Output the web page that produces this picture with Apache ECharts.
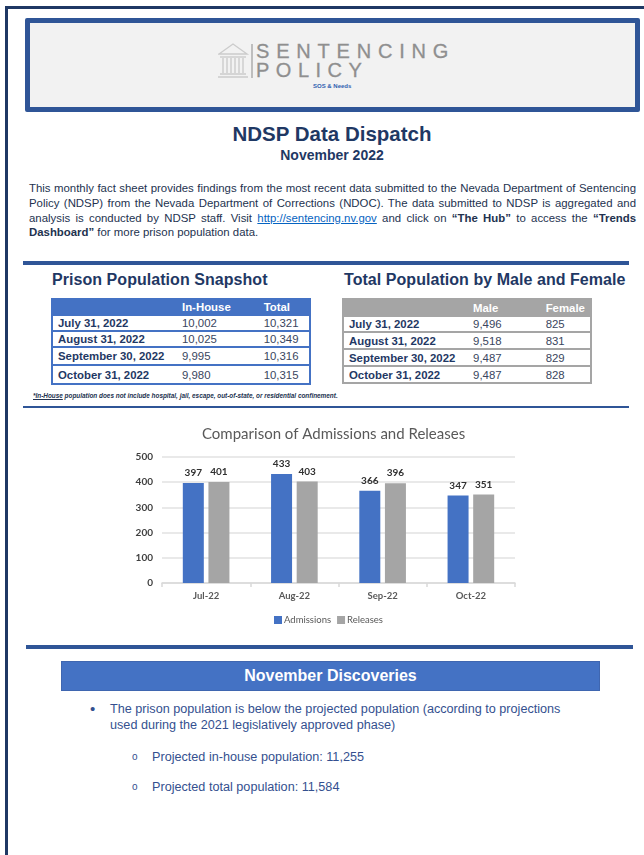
<!DOCTYPE html>
<html>
<head>
<meta charset="utf-8">
<title>NDSP Data Dispatch</title>
<script src="https://cdn.jsdelivr.net/npm/echarts@6/dist/echarts.min.js"></script>
<style>
  html, body { margin: 0; padding: 0; background: #fff; }
  body { width: 644px; height: 855px; overflow: hidden; position: relative; font-family: "Liberation Sans", Arial, sans-serif; color: #1f3864; }
  .abs { position: absolute; }
  .rule { position: absolute; background: #2f5597; }
  .center { text-align: center; }
  .line { position: absolute; left: 29px; width: 607px; font-size: 11.4px; line-height: 14px; color: #23324f; text-align: justify; text-align-last: justify; white-space: normal; }
  .line.last { text-align-last: left; }
  .line a { color: #0563c1; }
  h2 { position: absolute; margin: 0; font-size: 16px; line-height: 20px; font-weight: bold; white-space: nowrap; letter-spacing: 0.05px; }
  table { position: absolute; border-collapse: collapse; table-layout: fixed; font-size: 11.4px; }
  td, th { padding: 0; white-space: nowrap; text-align: left; }
  td { color: #3a4660; }
  td:first-child { font-weight: bold; padding-left: 5px; color: #1f3864; }
  th { color: #fff; }
  #snapshot { left: 51px; top: 298px; width: 260px; border: 2px solid #4472c4; }
  #snapshot th { background: #4472c4; }
  #snapshot td { border-top: 2px solid #4472c4; }
  #gender { left: 342px; top: 298px; width: 250px; border: 2px solid #a5a5a5; }
  #gender th { background: #a5a5a5; }
  #gender td { border-top: 2px solid #a5a5a5; }
  #note { left: 33px; top: 391px; font-size: 6.4px; line-height: 10px; font-style: italic; font-weight: bold; white-space: nowrap; color: #23324f; }
  #chart { position: absolute; left: 120px; top: 415px; width: 410px; height: 225px; }
  #banner { left: 61px; top: 661px; width: 539px; height: 30px; line-height: 30px; background: #4472c4; color: #fff; font-size: 16px; font-weight: bold; text-align: center; box-shadow: inset 0 0 0 1px #3f66b0; }
  .item { position: absolute; font-size: 12.65px; line-height: 16px; white-space: nowrap; color: #34508f; }
  .logo { position: absolute; font-size: 20px; line-height: 18px; color: #8f8f8f; white-space: nowrap; -webkit-text-stroke: 0.3px #8f8f8f; }
</style>
</head>
<body>
  <div class="abs" style="left:5px;top:6px;width:639px;height:3px;background:#1f3864"></div>
  <div class="abs" style="left:5px;top:6px;width:3px;height:849px;background:#1f3864"></div>

  <div class="abs" style="left:25px;top:18px;width:605px;height:84px;background:#f2f2f2;border:5px solid #2f5597;border-radius:2px"></div>
  <svg class="abs" style="left:218px;top:42px" width="36" height="38" viewBox="0 0 36 38" fill="none" stroke="#cccccc" stroke-width="1.4">
    <path d="M1 12 L15 2 L29 12 Z"/><path d="M2 15 H28"/>
    <path d="M5 16 V31 M9 16 V31 M13 16 V31 M17 16 V31 M21 16 V31 M25 16 V31"/>
    <path d="M2 32 H28 M0 35 H30"/>
    <path d="M34 2 V36" stroke="#a8a8a8" stroke-width="1.4"/>
  </svg>
  <div class="logo" style="left:256px;top:42px;letter-spacing:6.8px">SENTENCING</div>
  <div class="logo" style="left:256px;top:61px;letter-spacing:6.5px">POLICY</div>
  <div class="abs" style="left:313px;top:82px;font-size:6px;line-height:8px;font-weight:bold;color:#2f5fb0">SOS &amp; Needs</div>

  <div class="abs center" style="left:132px;width:400px;top:122px;font-size:20.5px;line-height:24px;font-weight:bold">NDSP Data Dispatch</div>
  <div class="abs center" style="left:132px;width:400px;top:147px;font-size:14px;line-height:17px;font-weight:bold">November 2022</div>

  <div class="line" style="top:181px">This monthly fact sheet provides findings from the most recent data submitted to the Nevada Department of Sentencing</div>
  <div class="line" style="top:196px">Policy (NDSP) from the Nevada Department of Corrections (NDOC). The data submitted to NDSP is aggregated and</div>
  <div class="line" style="top:211px"><span>analysis is conducted by NDSP staff. Visit </span><a href="#">http://sentencing.nv.gov</a><span> and click on </span><b>“The Hub”</b><span> to access the </span><b>“Trends</b></div>
  <div class="line last" style="top:225px"><b>Dashboard”</b><span> for more prison population data.</span></div>

  <div class="rule" style="left:23px;top:261px;width:606px;height:4px"></div>
  <h2 style="left:52px;top:270px">Prison Population Snapshot</h2>
  <h2 style="left:344px;top:270px">Total Population by Male and Female</h2>

  <table id="snapshot"></table>
  <table id="gender"></table>

  <div id="note" class="abs"><u>*In-House</u><span> population does not include hospital, jail, escape, out-of-state, or residential confinement.</span></div>
  <div class="rule" style="left:23px;top:406px;width:606px;height:2px"></div>

  <div id="chart"></div>

  <div class="rule" style="left:26px;top:645px;width:607px;height:4px"></div>
  <div id="banner" class="abs">November Discoveries</div>

  <div class="item" style="left:90px;top:701px;font-size:15px">•</div>
  <div class="item" style="left:110px;top:701px">The prison population is below the projected population (according to projections</div>
  <div class="item" style="left:110px;top:717px">used during the 2021 legislatively approved phase)</div>
  <div class="item" style="left:132px;top:749px;font-size:10px">o</div>
  <div class="item" id="projIn" style="left:152px;top:749px"></div>
  <div class="item" style="left:132px;top:779px;font-size:10px">o</div>
  <div class="item" id="projTotal" style="left:152px;top:779px"></div>

<script>
  const months = ['Jul-22', 'Aug-22', 'Sep-22', 'Oct-22'];
  const admissions = [397, 433, 366, 347];
  const releases = [401, 403, 396, 351];
  const yTickStep = 100;
  const yMax = 500;

  const dates = ['July 31, 2022', 'August 31, 2022', 'September 30, 2022', 'October 31, 2022'];
  const inHouse = ['10,002', '10,025', '9,995', '9,980'];
  const total = ['10,321', '10,349', '10,316', '10,315'];
  const male = ['9,496', '9,518', '9,487', '9,487'];
  const female = ['825', '831', '829', '828'];

  const projectedInHouse = '11,255';
  const projectedTotal = '11,584';

  function fillTable(id, heads, colA, colB, widths, rowHeights) {
    const el = document.getElementById(id);
    let html = '<colgroup>' + widths.map(w => '<col style="width:' + w + 'px">').join('') + '</colgroup>';
    html += '<tr style="height:' + rowHeights[0] + 'px"><th></th><th>' + heads[0] + '</th><th>' + heads[1] + '</th></tr>';
    dates.forEach((d, i) => {
      html += '<tr style="height:' + rowHeights[i + 1] + 'px"><td>' + d + '</td><td>' + colA[i] + '</td><td>' + colB[i] + '</td></tr>';
    });
    el.innerHTML = html;
  }
  fillTable('snapshot', ['In-House', 'Total'], inHouse, total, [129, 81, 46], [16, 16, 16, 18, 19]);
  fillTable('gender', ['Male', 'Female'], male, female, [129, 72, 45], [17, 16, 17, 17, 17]);

  document.getElementById('projIn').textContent = 'Projected in-house population: ' + projectedInHouse;
  document.getElementById('projTotal').textContent = 'Projected total population: ' + projectedTotal;

  const chart = echarts.init(document.getElementById('chart'), null, { renderer: 'canvas' });
  const labelStyle = { show: true, position: 'top', distance: 5, fontFamily: 'Lato', fontSize: 10, fontWeight: 'bold', color: '#303030' };
  chart.setOption({
    animation: false,
    title: {
      text: 'Comparison of Admissions and Releases',
      left: 77,
      top: 7,
      textStyle: { fontFamily: 'Lato', fontSize: 15, fontWeight: 'normal', color: '#595959' },
    },
    legend: {
      data: ['Admissions', 'Releases'],
      icon: 'rect',
      bottom: 10,
      left: 149,
      itemWidth: 8,
      itemHeight: 8,
      itemGap: 6,
      textStyle: { fontFamily: 'Lato', fontSize: 9.5, color: '#595959', padding: [0, 0, 0, -3] },
    },
    grid: { left: 42, right: 15, top: 42, bottom: 57 },
    xAxis: {
      type: 'category',
      data: months,
      axisLine: { lineStyle: { color: '#d9d9d9', width: 1.5 } },
      axisTick: { show: true, length: 4, lineStyle: { color: '#d9d9d9', width: 1.5 } },
      axisLabel: { fontFamily: 'Lato', fontSize: 9.5, fontWeight: 'bold', color: '#595959', margin: 8 },
    },
    yAxis: {
      type: 'value',
      min: 0,
      max: yMax,
      interval: yTickStep,
      axisLine: { show: false },
      axisTick: { show: false },
      axisLabel: { fontFamily: 'Lato', fontSize: 10, fontWeight: 'bold', color: '#404040', margin: 9 },
      splitLine: { lineStyle: { color: '#e2e2e2', width: 1.5 } },
    },
    series: [
      { name: 'Admissions', type: 'bar', data: admissions, barWidth: 21, barGap: '22%', itemStyle: { color: '#4472c4' }, label: labelStyle },
      { name: 'Releases', type: 'bar', data: releases, barWidth: 21, itemStyle: { color: '#a5a5a5' }, label: labelStyle },
    ],
  });
</script>
</body>
</html>
